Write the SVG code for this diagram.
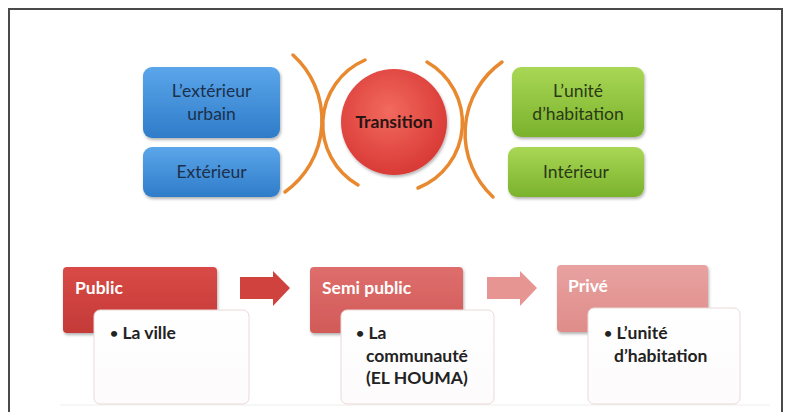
<svg xmlns="http://www.w3.org/2000/svg" width="788" height="412" viewBox="0 0 788 412">
<defs>
<linearGradient id="gBlue" x1="0" y1="0" x2="0" y2="1"><stop offset="0" stop-color="#5ba6ea"/><stop offset="1" stop-color="#2f7cc9"/></linearGradient>
<linearGradient id="gGreen" x1="0" y1="0" x2="0" y2="1"><stop offset="0" stop-color="#a9d755"/><stop offset="1" stop-color="#7ab22c"/></linearGradient>
<radialGradient id="gRed" cx="0.45" cy="0.4" r="0.6"><stop offset="0" stop-color="#f26a5e"/><stop offset="1" stop-color="#d93a36"/></radialGradient>
<linearGradient id="gPub" x1="0" y1="0" x2="0" y2="1"><stop offset="0" stop-color="#d84a46"/><stop offset="1" stop-color="#c43a38"/></linearGradient>
<linearGradient id="gSemi" x1="0" y1="0" x2="0" y2="1"><stop offset="0" stop-color="#de6e6c"/><stop offset="1" stop-color="#d15a58"/></linearGradient>
<linearGradient id="gPriv" x1="0" y1="0" x2="0" y2="1"><stop offset="0" stop-color="#e8a2a0"/><stop offset="1" stop-color="#df8c8a"/></linearGradient>
<linearGradient id="gWhite" x1="0" y1="0" x2="0" y2="1"><stop offset="0" stop-color="#ffffff"/><stop offset="1" stop-color="#fdfbfb"/></linearGradient>
<filter id="sh" x="-10%" y="-10%" width="125%" height="130%"><feDropShadow dx="1" dy="2" stdDeviation="1.5" flood-color="#000" flood-opacity="0.3"/></filter>
</defs>
<style>
.t{font-family:Lato,"Open Sans","Liberation Sans",sans-serif;font-size:17.5px}
.top{fill:#1c304c;text-anchor:middle}
.topg{fill:#2a3a16;text-anchor:middle}
.b{font-weight:bold}
.hdr{fill:#ffffff;font-weight:bold}
.bul{fill:#222;font-weight:bold}
.dot{font-size:14px}
.arc{fill:none;stroke:#e8892f;stroke-width:3.5;stroke-linecap:round}
.wbox{fill:url(#gWhite);stroke:#ead8d8;stroke-width:1}
</style>
<rect width="788" height="412" fill="#ffffff"/>
<path d="M9 412 V9 H782 V412" fill="none" stroke="#4a4a4a" stroke-width="2"/>
<line x1="60" y1="405" x2="770" y2="405" stroke="#eeeeee" stroke-width="1"/>

<g id="connectors">
<path class="arc" d="M293 55 A88 88 0 0 1 285 192"/>
<path class="arc" d="M365 60 A70 70 0 0 0 358 185"/>
<path class="arc" d="M427 62 A70 70 0 0 1 418 188"/>
<path class="arc" d="M502 62 A87 87 0 0 0 493 197"/>
<path d="M240 277 H273 V271 L290 288 L273 306 V299 H240 Z" fill="#d0423e"/>
<path d="M487 277 H520 V271 L537 288 L520 306 V299 H487 Z" fill="#e79593"/>
</g>

<g id="n-ext-urbain">
<rect x="143" y="67" width="137" height="71" rx="9" fill="url(#gBlue)" filter="url(#sh)"/>
<text class="t top" x="211.5" y="97">L’extérieur</text>
<text class="t top" x="211.5" y="120">urbain</text>
</g>
<g id="n-exterieur">
<rect x="143" y="147" width="137" height="50" rx="9" fill="url(#gBlue)" filter="url(#sh)"/>
<text class="t top" x="211.5" y="178">Extérieur</text>
</g>
<g id="n-transition">
<circle cx="394" cy="122" r="53" fill="url(#gRed)" filter="url(#sh)"/>
<text class="t b" x="394" y="128" text-anchor="middle" fill="#2a1414">Transition</text>
</g>
<g id="n-unite">
<rect x="512" y="67" width="132" height="70" rx="9" fill="url(#gGreen)" filter="url(#sh)"/>
<text class="t topg" x="578" y="97">L’unité</text>
<text class="t topg" x="578" y="120">d’habitation</text>
</g>
<g id="n-interieur">
<rect x="508" y="147" width="136" height="50" rx="9" fill="url(#gGreen)" filter="url(#sh)"/>
<text class="t topg" x="576" y="178">Intérieur</text>
</g>

<g id="n-public">
<rect x="63" y="267" width="154" height="66" rx="4" fill="url(#gPub)" filter="url(#sh)"/>
<text class="t hdr" x="75" y="294">Public</text>
<rect class="wbox" x="94" y="310" width="155" height="94" rx="6"/>
<text class="t bul" x="110" y="339"><tspan class="dot" dy="-1.5">•</tspan><tspan dy="1.5"> La ville</tspan></text>
</g>
<g id="n-semipublic">
<rect x="310" y="267" width="153" height="66" rx="4" fill="url(#gSemi)" filter="url(#sh)"/>
<text class="t hdr" x="322" y="294">Semi public</text>
<rect class="wbox" x="341" y="310" width="153" height="94" rx="6"/>
<text class="t bul" x="356" y="339"><tspan class="dot" dy="-1.5">•</tspan><tspan dy="1.5"> La</tspan></text>
<text class="t bul" x="366" y="362">communauté</text>
<text class="t bul" x="366" y="384">(EL HOUMA)</text>
</g>
<g id="n-prive">
<rect x="557" y="265" width="151" height="67" rx="4" fill="url(#gPriv)" filter="url(#sh)"/>
<text class="t hdr" x="568" y="292">Privé</text>
<rect class="wbox" x="588" y="308" width="152" height="96" rx="6"/>
<text class="t bul" x="604" y="339"><tspan class="dot" dy="-1.5">•</tspan><tspan dy="1.5"> L’unité</tspan></text>
<text class="t bul" x="614" y="362">d’habitation</text>
</g>
</svg>
